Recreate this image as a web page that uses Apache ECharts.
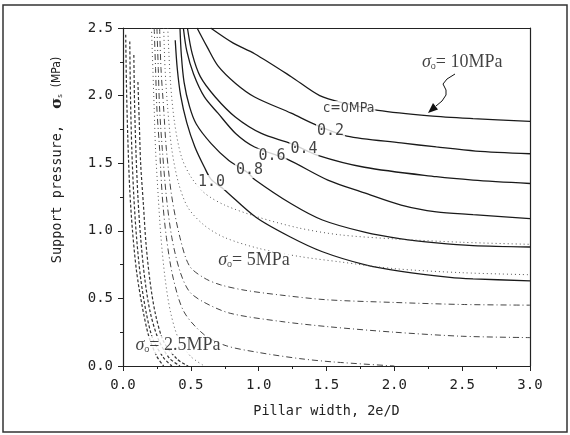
<!DOCTYPE html>
<html>
<head>
<meta charset="utf-8">
<script src="https://cdn.jsdelivr.net/npm/echarts@6.0.0/dist/echarts.min.js"></script>
<style>
  html, body { margin: 0; padding: 0; background: #fff; }
  #chart { width: 570px; height: 435px; }
</style>
</head>
<body>
<div id="chart"></div>
<script>
// sigma_o = 10MPa, one curve per cohesion c  [pillar width, support pressure]
var s10_c00 = [[0.646,2.5],[0.81,2.39],[0.97,2.31],[1.24,2.14],[1.45,2.0],[1.65,1.94],[1.88,1.89],[2.26,1.85],[2.58,1.83],[3.0,1.81]];
var s10_c02 = [[0.546,2.5],[0.62,2.36],[0.70,2.22],[0.83,2.09],[0.97,1.99],[1.24,1.87],[1.43,1.78],[1.65,1.70],[2.05,1.65],[2.31,1.62],[2.6,1.59],[3.0,1.57]];
var s10_c04 = [[0.475,2.5],[0.51,2.31],[0.57,2.14],[0.68,1.99],[0.83,1.84],[1.02,1.72],[1.24,1.645],[1.43,1.56],[1.78,1.47],[2.31,1.40],[2.58,1.375],[3.0,1.35]];
var s10_c06 = [[0.445,2.5],[0.47,2.33],[0.52,2.16],[0.60,1.99],[0.70,1.87],[0.83,1.72],[0.97,1.62],[1.21,1.53],[1.51,1.375],[1.78,1.28],[2.05,1.19],[2.31,1.14],[2.58,1.12],[3.0,1.09]];
var s10_c08 = [[0.42,2.5],[0.43,2.30],[0.45,2.10],[0.49,1.92],[0.54,1.79],[0.65,1.645],[0.78,1.52],[0.92,1.43],[0.97,1.38],[1.24,1.20],[1.47,1.08],[1.78,0.99],[2.05,0.94],[2.31,0.91],[2.58,0.89],[3.0,0.88]];
var s10_c10 = [[0.385,2.41],[0.40,2.2],[0.425,2.0],[0.47,1.80],[0.53,1.62],[0.60,1.47],[0.65,1.38],[0.74,1.31],[0.98,1.10],[1.23,0.956],[1.47,0.845],[1.78,0.75],[2.05,0.70],[2.41,0.656],[2.58,0.645],[3.0,0.63]];

// sigma_o = 5MPa
var s5_a = [[0.33,2.5],[0.35,2.1],[0.38,1.8],[0.43,1.55],[0.50,1.40],[0.60,1.28],[0.75,1.19],[1.0,1.10],[1.3,1.02],[1.6,0.97],[2.0,0.94],[2.5,0.915],[3.0,0.90]];
var s5_b = [[0.30,2.5],[0.31,2.2],[0.33,1.9],[0.36,1.6],[0.41,1.35],[0.48,1.17],[0.60,1.04],[0.75,0.95],[1.0,0.87],[1.3,0.81],[1.6,0.77],[2.0,0.72],[2.5,0.69],[3.0,0.675]];
var s5_c = [[0.27,2.5],[0.28,2.2],[0.30,1.9],[0.32,1.6],[0.36,1.25],[0.42,0.95],[0.49,0.74],[0.60,0.65],[0.72,0.60],[0.90,0.56],[1.16,0.525],[1.5,0.49],[2.0,0.47],[2.5,0.455],[3.0,0.45]];
var s5_d = [[0.25,2.5],[0.26,2.2],[0.27,1.9],[0.29,1.6],[0.32,1.25],[0.36,0.95],[0.42,0.70],[0.49,0.55],[0.60,0.47],[0.79,0.39],[1.16,0.33],[1.52,0.29],[2.0,0.25],[2.5,0.22],[3.0,0.21]];
var s5_e = [[0.23,2.5],[0.24,2.2],[0.25,1.9],[0.27,1.6],[0.29,1.25],[0.32,0.95],[0.37,0.65],[0.45,0.40],[0.60,0.23],[0.76,0.15],[1.0,0.10],[1.3,0.055],[1.55,0.03],[2.0,0.0]];
var s5_f = [[0.21,2.5],[0.22,2.2],[0.23,1.9],[0.24,1.6],[0.26,1.25],[0.28,0.95],[0.31,0.65],[0.35,0.40],[0.41,0.20],[0.50,0.07],[0.60,0.0]];

// sigma_o = 2.5MPa
var s25_a = [[0.02,2.45],[0.025,2.1],[0.035,1.7],[0.05,1.3],[0.07,1.0],[0.10,0.7],[0.14,0.45],[0.19,0.22],[0.25,0.07],[0.30,0.0]];
var s25_b = [[0.05,2.4],[0.055,2.0],[0.065,1.6],[0.08,1.25],[0.10,0.95],[0.13,0.65],[0.17,0.40],[0.22,0.2],[0.30,0.06],[0.36,0.0]];
var s25_c = [[0.08,2.3],[0.085,1.95],[0.095,1.6],[0.11,1.25],[0.13,0.95],[0.16,0.65],[0.20,0.40],[0.26,0.2],[0.34,0.06],[0.42,0.0]];
var s25_d = [[0.11,2.1],[0.12,1.8],[0.13,1.5],[0.15,1.2],[0.17,0.9],[0.20,0.62],[0.24,0.38],[0.30,0.18],[0.40,0.05],[0.48,0.0]];

// curve labels
var cohesionText = ['c=0MPa', '0.2', '0.4', '0.6', '0.8', '1.0'];
var cohesionPos = [[1.665,1.908],[1.53,1.74],[1.334,1.605],[1.098,1.553],[0.932,1.446],[0.652,1.357]];
var stressText = ['10MPa', '5MPa', '2.5MPa'];
var stressPos = [[2.5,2.245],[0.965,0.784],[0.405,0.155]];

var chart = echarts.init(document.getElementById('chart'));

function curve(data, style) {
    return {
        type: 'line',
        data: data,
        showSymbol: false,
        smooth: 0.3,
        silent: true,
        lineStyle: style,
        z: 2
    };
}

var solid = {color: '#1a1a1a', width: 1.3, type: 'solid'};
var dotted = {color: '#555', width: 1, type: [1, 3]};
var dashDot = {color: '#444', width: 1, type: [6, 3, 1, 3]};
var shortDash = {color: '#333', width: 1.2, type: [3, 2]};

var labelData = cohesionText.map(function (t, i) {
    return {
        value: cohesionPos[i],
        label: {
            formatter: t,
            fontFamily: i === 0 ? 'DejaVu Sans Condensed' : 'DejaVu Sans Mono',
            fontSize: i === 0 ? 14 : 15
        }
    };
});
stressText.forEach(function (t, i) {
    labelData.push({
        value: stressPos[i],
        label: {
            formatter: '{s|σ}{o|o}{t|= ' + t + '}'
        }
    });
});

var option = {
    animation: false,
    backgroundColor: '#fff',
    grid: {left: 123, right: 40, top: 28, bottom: 69},
    xAxis: [{
        type: 'value',
        min: 0,
        max: 3,
        interval: 0.5,
        name: 'Pillar width, 2e/D',
        nameLocation: 'middle',
        nameGap: 38,
        nameTextStyle: {fontFamily: 'DejaVu Sans Mono', fontSize: 13.5, color: '#222'},
        axisLine: {lineStyle: {color: '#222', width: 1.2}},
        axisTick: {inside: false, length: 5, lineStyle: {color: '#222'}},
        minorTick: {show: true, splitNumber: 2, length: 3, lineStyle: {color: '#222'}},
        splitLine: {show: false},
        axisLabel: {
            margin: 12,
            fontFamily: 'DejaVu Sans Mono',
            fontSize: 14,
            color: '#222',
            formatter: function (v) { return v.toFixed(1); }
        }
    }, {
        type: 'value',
        position: 'top',
        min: 0,
        max: 3,
        axisLine: {show: true, onZero: false, lineStyle: {color: '#222', width: 1.2}},
        axisTick: {show: false},
        axisLabel: {show: false},
        splitLine: {show: false}
    }],
    yAxis: [{
        type: 'value',
        min: 0,
        max: 2.5,
        interval: 0.5,
        axisLine: {show: true, lineStyle: {color: '#222', width: 1.2}},
        axisTick: {show: true, inside: false, length: 5, lineStyle: {color: '#222'}},
        minorTick: {show: true, splitNumber: 2, length: 3, lineStyle: {color: '#222'}},
        splitLine: {show: false},
        axisLabel: {
            margin: 10,
            fontFamily: 'DejaVu Sans Mono',
            fontSize: 14,
            color: '#222',
            formatter: function (v) { return v.toFixed(1); }
        }
    }, {
        type: 'value',
        position: 'right',
        min: 0,
        max: 2.5,
        axisLine: {show: true, onZero: false, lineStyle: {color: '#222', width: 1.2}},
        axisTick: {show: false},
        axisLabel: {show: false},
        splitLine: {show: false}
    }],
    series: [
        curve(s10_c00, solid), curve(s10_c02, solid), curve(s10_c04, solid),
        curve(s10_c06, solid), curve(s10_c08, solid), curve(s10_c10, solid),
        curve(s5_a, dotted), curve(s5_b, dotted), curve(s5_c, dashDot),
        curve(s5_d, dashDot), curve(s5_e, dashDot), curve(s5_f, dotted),
        curve(s25_a, shortDash), curve(s25_b, shortDash),
        curve(s25_c, shortDash), curve(s25_d, shortDash),
        {
            type: 'scatter',
            symbolSize: 0,
            silent: true,
            z: 5,
            data: labelData,
            label: {
                show: true,
                position: 'inside',
                color: '#111',
                backgroundColor: '#fff',
                padding: [0, 1],
                rich: {
                    s: {fontFamily: 'Liberation Serif', fontStyle: 'italic', fontSize: 18, color: '#111'},
                    o: {fontFamily: 'Liberation Sans', fontSize: 9, color: '#111', verticalAlign: 'bottom', padding: [6, 0, 0, 0]},
                    t: {fontFamily: 'Liberation Serif', fontSize: 18, color: '#111'}
                }
            }
        }
    ],
    graphic: [
        {
            type: 'rect',
            shape: {x: 3, y: 5, width: 564, height: 427},
            style: {fill: 'none', stroke: '#333', lineWidth: 1.5},
            silent: true
        },
        {
            type: 'text',
            x: 57,
            y: 160,
            rotation: Math.PI / 2,
            style: {
                text: '{a|Support pressure,  }{b|σ}{c|s}{d|  (MPa)}',
                textAlign: 'center',
                textVerticalAlign: 'middle',
                fill: '#222',
                rich: {
                    a: {fontFamily: 'DejaVu Sans Mono', fontSize: 13.5, fill: '#222'},
                    b: {fontFamily: 'DejaVu Serif', fontWeight: 'bold', fontSize: 15, fill: '#222'},
                    c: {fontFamily: 'DejaVu Sans', fontSize: 7, fill: '#222', padding: [6, 0, 0, 0]},
                    d: {fontFamily: 'DejaVu Sans Condensed', fontSize: 12, fill: '#222'}
                }
            },
            silent: true
        },
        {
            type: 'polyline',
            shape: {points: [[455, 74], [447, 79], [443, 84], [446, 90], [446, 95], [442, 101], [436, 106]]},
            style: {stroke: '#111', lineWidth: 1, fill: 'none'},
            silent: true,
            z: 10
        },
        {
            type: 'polygon',
            shape: {points: [[428, 113], [438, 109.5], [433, 103]]},
            style: {fill: '#111'},
            silent: true,
            z: 10
        }
    ]
};

chart.setOption(option);
</script>
</body>
</html>
